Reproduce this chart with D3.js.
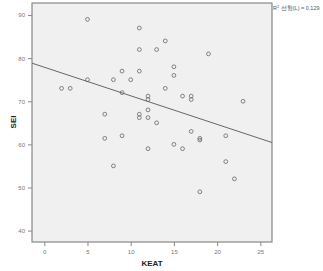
<!DOCTYPE html>
<html>
<head>
<meta charset="utf-8">
<script src="https://cdn.jsdelivr.net/npm/d3@7"></script>
<style>
  body { margin: 0; background: #fff; }
  svg { display: block; font-family: Arial, "Liberation Sans", sans-serif; }
</style>
</head>
<body>
<svg id="chart" width="323" height="271"></svg>
<script>
const keat = [5, 2, 3, 5, 8, 9, 10, 11, 11, 11, 13, 9, 7, 11, 11, 12, 12, 12, 12, 13, 7, 9, 8, 12,
  14, 19, 15, 15, 14, 16, 17, 17, 23, 17, 18, 21, 18, 15, 16, 21, 22, 18];
const sei = [89, 73, 73, 75, 75, 77, 75, 87, 82, 77, 82, 72, 67, 67, 66.2, 71.2, 70.4, 68, 66.2, 65, 61.4, 62, 55, 59,
  84, 81, 78, 76, 73, 71.2, 71.2, 70.4, 70, 63, 61.4, 62, 61, 60, 59, 56, 52, 49];
const xTicks = [0, 5, 10, 15, 20, 25];
const yTicks = [40, 50, 60, 70, 80, 90];
const fit = [77.9, -0.663]; // intercept, slope
const rSquared = 0.129;

const svg = d3.select('#chart');
const plotL = 32, plotT = 3, plotR = 272, plotB = 242;

const x = d3.scaleLinear().domain([-1.42, 26.35]).range([plotL, plotR]);
const y = d3.scaleLinear().domain([37.35, 92.8]).range([plotB, plotT]);

svg.append('rect')
  .attr('x', plotL).attr('y', plotT)
  .attr('width', plotR - plotL).attr('height', plotB - plotT)
  .attr('fill', '#f0f0f0')
  .attr('stroke', '#888')
  .attr('stroke-width', 1.2);

const xAxis = svg.append('g')
  .attr('transform', `translate(0,${plotB})`)
  .call(d3.axisBottom(x).tickValues(xTicks).tickSize(4).tickSizeOuter(0));
const yAxis = svg.append('g')
  .attr('transform', `translate(${plotL},0)`)
  .call(d3.axisLeft(y).tickValues(yTicks).tickSize(4).tickSizeOuter(0));

[xAxis, yAxis].forEach(ax => {
  ax.select('.domain').remove();
  ax.selectAll('line').attr('stroke', '#888');
  ax.selectAll('text').attr('fill', '#777').style('font-size', '6px');
});
xAxis.selectAll('text').attr('dy', '0.9em');

// fit line across the plot
const xs = x.domain();
svg.append('line')
  .attr('x1', x(xs[0])).attr('y1', y(fit[0] + fit[1] * xs[0]))
  .attr('x2', x(xs[1])).attr('y2', y(fit[0] + fit[1] * xs[1]))
  .attr('stroke', '#666')
  .attr('stroke-width', 1);

svg.append('g').selectAll('circle')
  .data(keat.map((k, i) => [k, sei[i]]))
  .enter()
  .append('circle')
  .attr('cx', d => x(d[0]))
  .attr('cy', d => y(d[1]))
  .attr('r', 1.9)
  .attr('fill', 'none')
  .attr('stroke', '#666')
  .attr('stroke-width', 0.8);

svg.append('text')
  .attr('x', 273).attr('y', 10)
  .attr('fill', '#555')
  .style('font-size', '5.5px')
  .html(`R<tspan dy="-2" font-size="4px">2</tspan><tspan dy="2"> 선형(L) = ${rSquared}</tspan>`);

svg.append('text')
  .attr('x', 152).attr('y', 266)
  .attr('text-anchor', 'middle')
  .attr('font-weight', 'bold')
  .attr('fill', '#222')
  .style('font-size', '8px')
  .text('KEAT');

svg.append('text')
  .attr('transform', `translate(16,122) rotate(-90)`)
  .attr('text-anchor', 'middle')
  .attr('font-weight', 'bold')
  .attr('fill', '#222')
  .style('font-size', '8px')
  .text('SEI');
</script>
</body>
</html>
